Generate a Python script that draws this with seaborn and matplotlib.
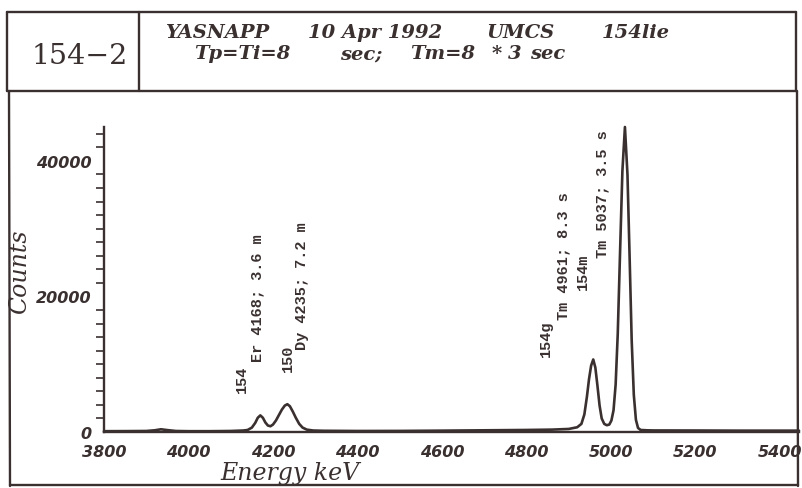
import matplotlib
matplotlib.use("Agg")
import matplotlib.pyplot as plt
import seaborn as sns
import pandas as pd
from matplotlib.lines import Line2D
from matplotlib.ticker import MultipleLocator

# ---- data ----
energy_kev = [3800, 3850, 3900, 3920, 3935, 3950, 3970, 4000, 4050, 4100, 4130,
              4140, 4150, 4158, 4164, 4170, 4176, 4182, 4188, 4194, 4200, 4207,
              4214, 4221, 4228, 4234, 4240, 4247, 4254, 4262, 4270, 4280, 4295,
              4320, 4400, 4500, 4600, 4700, 4800, 4860, 4900, 4920, 4930, 4937,
              4943, 4948, 4953, 4958, 4963, 4968, 4973, 4978, 4984, 4990, 4996,
              5001, 5006, 5011, 5016, 5021, 5027, 5033, 5039, 5044, 5049, 5054,
              5059, 5064, 5070, 5085, 5100, 5200, 5300, 5400, 5445]
counts = [120, 130, 150, 250, 400, 280, 150, 120, 120, 150, 220,
          300, 650, 1350, 2100, 2450, 2100, 1400, 950, 850, 1100, 1700,
          2500, 3300, 3900, 4100, 3800, 3000, 2100, 1200, 650, 350, 220,
          180, 150, 160, 200, 250, 300, 350, 450, 700, 1200, 2600,
          5200, 7800, 9800, 10700, 9500, 6800, 3900, 2000, 1200, 1000, 1100,
          1700, 3200, 7000, 14500, 25500, 38500, 45000, 38000, 26000, 13500, 5500,
          1800, 600, 300, 250, 230, 220, 200, 200, 200]

x_ticks = [3800, 4000, 4200, 4400, 4600, 4800, 5000, 5200, 5400]
y_ticks = [0, 20000, 40000]

header_line1 = [("YASNAPP", 165), ("10 Apr 1992", 308), ("UMCS", 486), ("154lie", 602)]
header_line2 = [("Tp=Ti=8", 194), ("sec;", 340), ("Tm=8", 410), ("*", 492), ("3", 508), ("sec", 530)]
peak_labels = [("154", 242, 393), ("Er 4168; 3.6 m", 257, 362),
               ("150", 288, 372), ("Dy 4235; 7.2 m", 302, 350),
               ("154g", 546, 357), ("Tm 4961; 8.3 s", 563, 320),
               ("154m", 583, 290), ("Tm 5037; 3.5 s", 602, 258)]

df = pd.DataFrame({"Energy": energy_kev, "Counts": counts})

INK = "#3a3030"
W, H = 802, 489

sns.set_theme(style="white")
plt.rcParams["font.family"] = ["DejaVu Sans"]

fig = plt.figure(figsize=(W / 100, H / 100), dpi=100, facecolor="white")


def fx(px):
    return px / W


def fy(py):
    return 1 - py / H


# axes placement: 3800 at px 104, 0 counts at py 433
x0, x1 = 3800, 5445
y0, y1 = 0, 45000
ax = fig.add_axes([fx(104), fy(433), (799 - 104) / W, (433 - 128) / H])
ax.set_facecolor("none")

sns.lineplot(data=df, x="Energy", y="Counts", ax=ax, color=INK, linewidth=1.9,
             sort=True, clip_on=False)

ax.set_xlim(x0, x1)
ax.set_ylim(y0, y1)
for s in ["top", "right"]:
    ax.spines[s].set_visible(False)
for s in ["left", "bottom"]:
    ax.spines[s].set_color(INK)
    ax.spines[s].set_linewidth(1.7)

ax.set_xticks(x_ticks)
ax.set_xticklabels([str(t) for t in x_ticks])
ax.set_yticks(y_ticks)
ax.set_yticklabels([str(t) for t in y_ticks])
ax.yaxis.set_minor_locator(MultipleLocator(2000))
ax.tick_params(axis="both", which="major", direction="out", length=7, width=1.3,
               colors=INK, pad=2)
ax.tick_params(axis="y", which="minor", direction="out", length=6, width=1.2,
               colors=INK, left=True)
for lab in ax.get_xticklabels() + ax.get_yticklabels():
    lab.set_fontweight("heavy")
    lab.set_fontstyle("italic")
    lab.set_fontsize(11.5)
    lab.set_color(INK)
ax.set_xlabel("")
ax.set_ylabel("")

# axis titles
fig.text(fx(290), fy(474), "Energy keV", family="DejaVu Serif", style="italic",
         fontsize=17, color=INK, ha="center", va="center")
fig.text(fx(20), fy(272), "Counts", family="DejaVu Serif", style="italic",
         fontsize=17, color=INK, ha="center", va="center", rotation=90)

# peak annotations
for txt, px, py in peak_labels:
    fig.text(fx(px), fy(py), txt, family="Liberation Mono", fontweight="bold",
             fontsize=11, color=INK, rotation=90, ha="center", va="bottom")

# header
fig.text(fx(80), fy(56), "154\u22122", family="DejaVu Serif", fontsize=20.5,
         color=INK, ha="center", va="center")
for txt, px in header_line1:
    fig.text(fx(px), fy(38), txt, family="DejaVu Serif", style="italic",
             fontweight="bold", fontsize=14, color=INK, ha="left", va="baseline")
for txt, px in header_line2:
    fig.text(fx(px), fy(59), txt, family="DejaVu Serif", style="italic",
             fontweight="bold", fontsize=14, color=INK, ha="left", va="baseline")

# frames
def seg(xa, ya, xb, yb, lw=1.7):
    fig.add_artist(Line2D([fx(xa), fx(xb)], [fy(ya), fy(yb)], color=INK,
                          linewidth=lw, transform=fig.transFigure))

seg(7, 13, 796, 13)
seg(7, 13, 7, 92)
seg(796, 13, 796, 92)
seg(139, 13, 139, 92)
seg(7, 92, 797, 92)
seg(9, 92, 10, 487)
seg(797, 92, 798, 487)
seg(10, 486, 798, 486)

fig.savefig("out.png", dpi=100, facecolor="white")
